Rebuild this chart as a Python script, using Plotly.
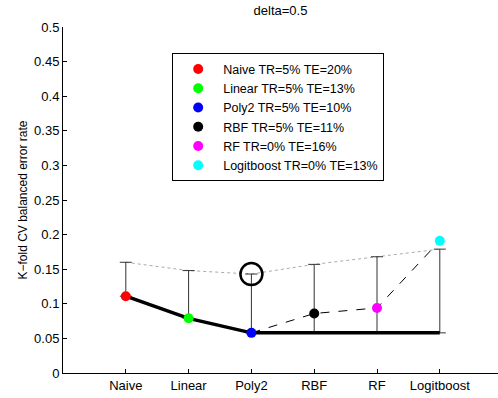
import plotly.graph_objects as go

models = ["Naive", "Linear", "Poly2", "RBF", "RF", "Logitboost"]
legend_labels = ["Naive TR=5% TE=20%", "Linear TR=5% TE=13%", "Poly2 TR=5% TE=10%",
                 "RBF TR=5% TE=11%", "RF TR=0% TE=16%", "Logitboost TR=0% TE=13%"]
cv_error = [0.111, 0.079, 0.058, 0.086, 0.094, 0.191]
bar_base = [0.111, 0.079, 0.058, 0.058, 0.058, 0.058]
bar_top = [0.160, 0.148, 0.143, 0.157, 0.168, 0.179]
best_level = 0.058
colors = ["#ff0000", "#00ff00", "#0000ff", "#000000", "#ff00ff", "#00ffff"]
yticks = [0, 0.05, 0.1, 0.15, 0.2, 0.25, 0.3, 0.35, 0.4, 0.45, 0.5]

xpos = list(range(1, len(models) + 1))
font = "Liberation Sans, Arial, sans-serif"

fig = go.Figure()

# dotted line along error bar tops
fig.add_trace(go.Scatter(x=xpos, y=bar_top, mode="lines",
                         line=dict(color="#aaaaaa", width=1, dash="dot"),
                         showlegend=False, hoverinfo="skip"))
# error bars (one-sided, up)
fig.add_trace(go.Scatter(x=xpos, y=bar_base, mode="markers",
                         marker=dict(size=0.1, color="rgba(0,0,0,0)"),
                         error_y=dict(type="data", symmetric=False,
                                      array=[t - b for t, b in zip(bar_top, bar_base)],
                                      arrayminus=[0] * len(xpos),
                                      color="#333333", thickness=1, width=6),
                         showlegend=False, hoverinfo="skip"))
# dashed line from best model onward
fig.add_trace(go.Scatter(x=xpos[2:], y=cv_error[2:], mode="lines",
                         line=dict(color="black", width=1, dash="dash"),
                         showlegend=False, hoverinfo="skip"))
# thick solid running minimum
thick_y = cv_error[:3] + [best_level] * 3
fig.add_trace(go.Scatter(x=xpos, y=thick_y, mode="lines",
                         line=dict(color="black", width=3.5),
                         showlegend=False, hoverinfo="skip"))
# circle around selected model's bar top
fig.add_trace(go.Scatter(x=[xpos[2]], y=[bar_top[2]], mode="markers",
                         marker=dict(symbol="circle-open", size=22, color="black",
                                     line=dict(width=2.5, color="black")),
                         showlegend=False, hoverinfo="skip"))
# model markers
for x, y, c, lab in zip(xpos, cv_error, colors, legend_labels):
    fig.add_trace(go.Scatter(x=[x], y=[y], mode="markers", name=lab,
                             marker=dict(size=10, color=c, line=dict(width=0))))

fig.update_layout(
    width=498, height=398,
    margin=dict(l=63, r=0, t=27, b=25),
    paper_bgcolor="white", plot_bgcolor="white",
    font=dict(family=font, size=13, color="black"),
    title=dict(text="delta=0.5", x=0.5, xref="paper", y=0.985, yanchor="top",
               font=dict(size=13)),
    legend=dict(x=0.251, y=0.924, xanchor="left", yanchor="top",
                bgcolor="white", bordercolor="black", borderwidth=1,
                font=dict(size=12.5), itemwidth=40, tracegroupgap=0),
    showlegend=True,
)
fig.update_xaxes(range=[0, 435 / 62.8], tickmode="array", tickvals=xpos, ticktext=models,
                 ticks="inside", ticklen=4, tickcolor="black",
                 showline=True, linecolor="black", linewidth=1,
                 showgrid=False, zeroline=False, mirror=False)
fig.update_yaxes(range=[0, 0.5], tickmode="array", tickvals=yticks,
                 ticktext=[f"{v:g}" for v in yticks],
                 ticks="inside", ticklen=4, tickcolor="black",
                 showline=True, linecolor="black", linewidth=1,
                 showgrid=False, zeroline=False, mirror=False,
                 title=dict(text="K\u2212fold CV balanced error rate", standoff=3,
                            font=dict(size=12)))

fig.write_html("out.html")
